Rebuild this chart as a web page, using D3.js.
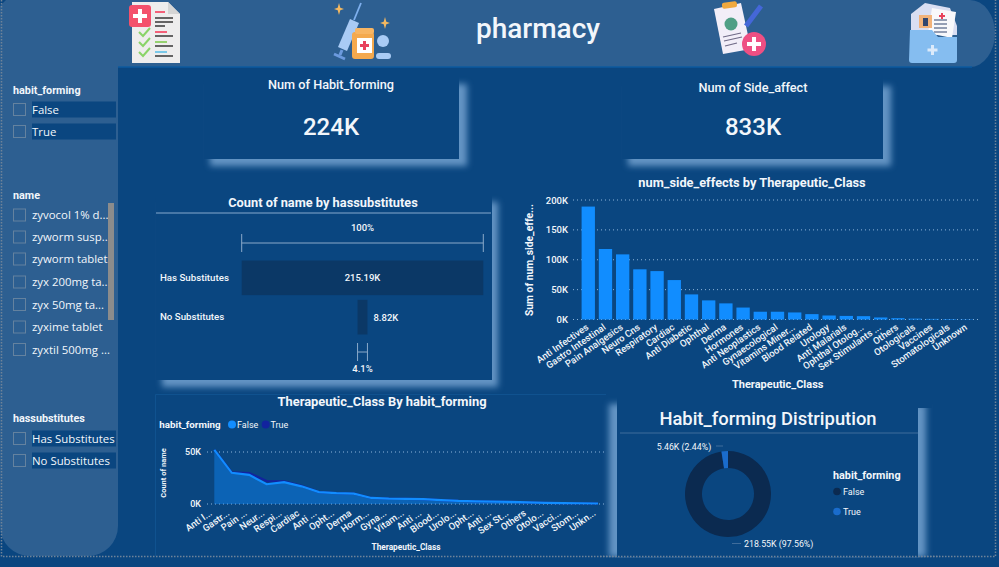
<!DOCTYPE html>
<html>
<head>
<meta charset="utf-8">
<script src="https://cdn.jsdelivr.net/npm/d3@7/dist/d3.min.js"></script>
<style>
    html, body { margin: 0; padding: 0; background: #0a4680; overflow: hidden; }
    svg { display: block; }
    text { font-family: Roboto, sans-serif; fill: #f2f6fb; }
    .slicer { font-family: 'Open Sans', sans-serif; }
    .axis path, .axis line { display: none; }
</style>
</head>
<body>
<svg id="chart" width="999" height="567"></svg>
<script>
// data
const sideClasses = ['Anti Infectives', 'Gastro Intestinal', 'Pain Analgesics', 'Neuro Cns', 'Respiratory', 'Cardiac', 'Anti Diabetic', 'Ophthal', 'Derma', 'Hormones', 'Anti Neoplastics', 'Gynaecological', 'Vitamins Miner...', 'Blood Related', 'Urology', 'Anti Malarials', 'Ophthal Otolog...', 'Sex Stimulants ...', 'Others', 'Otologicals', 'Vaccines', 'Stomatologicals', 'Unknown'];
const sideValues = [189000, 118000, 109000, 84000, 81000, 66000, 42000, 32000, 27000, 20000, 13000, 13000, 11800, 9000, 6700, 6000, 5600, 3400, 2200, 1400, 1000, 800, 500];
const sideTicks = [0, 50000, 100000, 150000, 200000];

const areaLabels = ['Anti I...', 'Gastr...', 'Pain ...', 'Neur...', 'Respi...', 'Cardiac', 'Anti ...', 'Opht...', 'Derma', 'Horm...', 'Gyna...', 'Vitam...', 'Anti ...', 'Blood...', 'Urolo...', 'Opht...', 'Anti ...', 'Sex St...', 'Others', 'Otolo...', 'Vacci...', 'Stom...', 'Unkn...'];
const areaFalse = [52000, 30000, 28000, 19000, 21000, 17000, 11500, 10500, 10000, 5800, 5200, 5000, 4600, 3800, 3000, 2600, 2300, 2100, 1500, 1100, 900, 700, 500];
const areaTrue = [0, 400, 1800, 3000, 800, 400, 0, 0, 0, 0, 0, 0, 0, 0, 0, 0, 0, 0, 0, 0, 0, 0, 0];
const areaTicks = [0, 50000];

const funnelNames = ['Has Substitutes', 'No Substitutes'];
const funnelValues = [215190, 8820];
const funnelLabels = ['215.19K', '8.82K'];

const donutNames = ['False', 'True'];
const donutValues = [218550, 5460];
const donutLabels = ['218.55K (97.56%)', '5.46K (2.44%)'];

const habitItems = ['False', 'True'];
const nameItems = ['zyvocol 1% d...', 'zyworm susp...', 'zyworm tablet', 'zyx 200mg ta...', 'zyx 50mg ta...', 'zyxime tablet', 'zyxtil 500mg ...'];
const subsItems = ['Has Substitutes', 'No Substitutes'];

const BG = '#0a4680';
const BAND = '#2d5f91';
const svg = d3.select('#chart');

const defs = svg.append('defs');
defs.append('filter').attr('id', 'soft').attr('x', '-10%').attr('y', '-15%').attr('width', '120%').attr('height', '130%')
    .append('feGaussianBlur').attr('stdDeviation', 3);

const fmtK = (d) => d / 1000 + 'K';

// helper for plain shapes
const put = (parent, tag, attrs) => {
    const el = parent.append(tag);
    Object.keys(attrs).forEach((k) => el.attr(k, attrs[k]));
    return el;
};
const label = (x, y, str, size, weight, anchor, parent) => {
    return (parent || svg).append('text')
        .attr('x', x).attr('y', y)
        .attr('font-size', size)
        .attr('font-weight', weight || 400)
        .attr('text-anchor', anchor || 'start')
        .text(str);
};

// header band + side panel
put(svg, 'path', {
    d: 'M0,0H970a25,33 0 0 1 25,33a25,34 0 0 1 -25,34H118V526a30,30 0 0 1 -30,30H30a30,30 0 0 1 -30,-30Z',
    fill: BAND,
});
put(svg, 'line', { x1: 118, x2: 972, y1: 67, y2: 67, stroke: '#0d5a9f', 'stroke-width': 1.5 });
put(svg, 'path', { d: 'M0,0H6L0,6Z', fill: '#0a4680' });

// dotted report border
put(svg, 'path', {
    d: 'M1.5,0V556.5H995.5V0',
    fill: 'none', stroke: '#6f8399', 'stroke-width': 1.5, 'stroke-dasharray': '1.5,1.5',
});

label(538, 38, 'pharmacy', 28, 500, 'middle');

// header icons
const icon1 = svg.append('g');
put(icon1, 'path', { d: 'M132,2H168L180,14V63H132Z', fill: '#eeeded' });
put(icon1, 'path', { d: 'M168,2L180,14H168Z', fill: '#d5d5d5' });
put(icon1, 'rect', { x: 129, y: 5, width: 22, height: 22, rx: 3, fill: '#f4516c' });
put(icon1, 'path', { d: 'M140,9V23M133,16H147', stroke: '#fff', 'stroke-width': 4 });
[[155, 12, 165, '#f4516c'], [155, 18, 173, '#555'], [155, 22, 173, '#555'], [155, 26, 165, '#555'],
    [155, 32, 167, '#f4516c'], [155, 36, 173, '#555'], [155, 42, 167, '#8ccf62'], [155, 46, 173, '#555'],
    [155, 52, 167, '#6cc4e8'], [155, 56, 173, '#555']].forEach((r) => {
    put(icon1, 'line', { x1: r[0], x2: r[2], y1: r[1], y2: r[1], stroke: r[3], 'stroke-width': 1.8 });
});
[34, 44, 54].forEach((y) => {
    put(icon1, 'path', { d: `M139,${y - 2}l4,4l7,-8`, fill: 'none', stroke: '#8ad468', 'stroke-width': 2 });
});

const icon2 = svg.append('g');
put(icon2, 'path', { d: 'M361,3L354,20', stroke: '#7fb0ee', 'stroke-width': 1.8 });
put(icon2, 'path', { d: 'M350,19L359,23L347,51L338,47Z', fill: '#a9cbf5' });
put(icon2, 'path', { d: 'M334,54L345,59M342,50L340,55', stroke: '#6c9ade', 'stroke-width': 3 });
put(icon2, 'rect', { x: 352, y: 32, width: 22, height: 27, rx: 3, fill: '#f4a94e' });
put(icon2, 'rect', { x: 355, y: 28, width: 19, height: 6, rx: 2, fill: '#f7b563' });
put(icon2, 'rect', { x: 357, y: 38, width: 15, height: 15, fill: '#fff' });
put(icon2, 'path', { d: 'M364.5,41V50M360,45.500H369', stroke: '#e8425c', 'stroke-width': 3 });
put(icon2, 'circle', { cx: 383, cy: 41, r: 6, fill: '#a9cbf5' });
put(icon2, 'rect', { x: 376, y: 53, width: 15, height: 6, rx: 3, fill: '#a9cbf5' });
[[339, 9, 5], [385, 23, 5]].forEach((s) => {
    const [x, y, r] = s;
    put(icon2, 'path', {
        d: `M${x},${y - r - 1}L${x + 1.300},${y - 1.300}L${x + r},${y}L${x + 1.300},${y + 1.300}L${x},${y + r + 1}L${x - 1.300},${y + 1.300}L${x - r},${y}L${x - 1.300},${y - 1.300}Z`,
        fill: '#f4b860',
    });
});

const icon3 = svg.append('g');
put(icon3, 'path', { d: 'M714,9L741,3L751,49L723,54Z', fill: '#f2eef8' });
put(icon3, 'rect', { x: 722, y: 2, width: 15, height: 6, rx: 2, fill: '#f0a93f', transform: 'rotate(-8 729 5)' });
put(icon3, 'circle', { cx: 731, cy: 24, r: 6.500, fill: '#4f9f86' });
put(icon3, 'path', { d: 'M723,37L741,33M724,41L742,37M725,46L737,43', stroke: '#6f6a86', 'stroke-width': 1.2 });
put(icon3, 'path', { d: 'M746,26L761,6', stroke: '#4467d8', 'stroke-width': 5 });
put(icon3, 'circle', { cx: 754, cy: 44, r: 12, fill: '#ee4f83' });
put(icon3, 'path', { d: 'M754,37V51M747,44H761', stroke: '#fff', 'stroke-width': 4 });

const icon4 = svg.append('g');
put(icon4, 'path', { d: 'M911,14L925,3L950,8L957,26L957,35H911Z', fill: '#d9def2' });
put(icon4, 'path', { d: 'M932,8L956,12L952,38L928,33Z', fill: '#f8f8fb' });
put(icon4, 'rect', { x: 919, y: 15, width: 13, height: 13, fill: '#f2b27a' });
put(icon4, 'path', { d: 'M925.500,18V26', stroke: '#31456e', 'stroke-width': 5 });
put(icon4, 'path', { d: 'M942,13V19M939,16H945', stroke: '#e8425c', 'stroke-width': 2 });
put(icon4, 'path', { d: 'M934,20H947M934,24H947M934,28H947M934,32H947', stroke: '#31456e', 'stroke-width': 1 });
put(icon4, 'path', { d: 'M910,30H932L938,37H957V60a3,3 0 0 1 -3,3H912a3,3 0 0 1 -3,-3Z', fill: '#85bdf0' });
put(icon4, 'path', { d: 'M932.500,45V55M927.500,50H937.500', stroke: '#dbeafa', 'stroke-width': 3 });

// slicers
const slicer = (title, titleY, items, ys, highlight) => {
    label(13, titleY, title, 10.800, 700);
    items.forEach((name, i) => {
        const y = ys[i];
        if (highlight) {
            put(svg, 'rect', { x: 32, y: y - 8, width: 84, height: 16, fill: '#0a4680' });
        }
        put(svg, 'rect', { x: 13.500, y: y - 6, width: 12, height: 12, fill: 'none', stroke: '#64829f', 'stroke-width': 1 });
        label(32, y + 4, name, 11.400, 400).attr('class', 'slicer');
    });
};
slicer('habit_forming', 94, habitItems, [109.500, 131.500], true);
slicer('name', 199, nameItems, [215, 237, 259, 282, 304.500, 327, 349.500], false);
slicer('hassubstitutes', 422, subsItems, [438.500, 460.500], true);
put(svg, 'rect', { x: 108, y: 203, width: 6, height: 117, fill: '#8c8c8c' });

// panels with the soft lighter edge
const panel = (x, y, w, h, sx, sy, sw, sh) => {
    put(svg, 'rect', { x: sx, y: sy, width: sw, height: sh, fill: '#6494c4', filter: 'url(#soft)' });
    put(svg, 'rect', { x: x, y: y, width: w, height: h, fill: BG });
};
panel(204, 77, 255, 82, 210, 84, 257, 82);
panel(622, 79, 261, 80, 628, 86, 263, 80);
panel(156, 195, 336, 185, 162, 202, 336, 185);
panel(617, 397, 301, 160, 609, 404, 317, 153);
put(svg, 'rect', { x: 916, y: 388, width: 16, height: 20, fill: BG });
put(svg, 'rect', { x: 600, y: 557.500, width: 340, height: 10, fill: BG });
put(svg, 'path', { d: 'M600,556.500H940', fill: 'none', stroke: '#6f8399', 'stroke-width': 1.5, 'stroke-dasharray': '1.5,1.5' });
put(svg, 'path', { d: 'M155.500,556V394.500H606', fill: 'none', stroke: '#10528f', 'stroke-width': 1 });

// KPI cards
label(331, 89, 'Num of Habit_forming', 12.700, 500, 'middle');
label(331, 135, '224K', 24, 500, 'middle');
label(753, 92, 'Num of Side_affect', 12.700, 500, 'middle');
label(753, 135, '833K', 24, 500, 'middle');

// funnel
label(323, 207, 'Count of name by hassubstitutes', 12.800, 700, 'middle');
put(svg, 'line', { x1: 156, x2: 491, y1: 213, y2: 213, stroke: '#86a9cd', 'stroke-width': 1 });
const funnelX = d3.scaleLinear().domain([0, d3.max(funnelValues)]).range([0, 241.600]);
const funnelY = d3.scaleBand().domain(funnelNames).range([260.500, 334.500]).paddingInner(0.12);
const funnelMid = 362.500;
svg.append('g').selectAll('rect').data(funnelNames).join('rect')
    .attr('x', (d, i) => funnelMid - funnelX(funnelValues[i]) / 2)
    .attr('y', (d) => funnelY(d))
    .attr('width', (d, i) => funnelX(funnelValues[i]))
    .attr('height', funnelY.bandwidth())
    .attr('fill', '#0b3866');
funnelNames.forEach((n, i) => {
    const cy = funnelY(n) + funnelY.bandwidth() / 2;
    label(160, cy + 3, n, 9.700, 500);
    const w = funnelX(funnelValues[i]);
    if (w > 60) label(funnelMid, cy + 3.500, funnelLabels[i], 9.500, 500, 'middle');
    else label(funnelMid + w / 2 + 6, cy + 3.500, funnelLabels[i], 9.500, 500);
});
const bracket = (w, y, txt, ty) => {
    const x0 = funnelMid - w / 2;
    const x1 = funnelMid + w / 2;
    put(svg, 'path', {
        d: `M${x0},${y - 9}V${y + 9}M${x1},${y - 9}V${y + 9}M${x0},${y}H${x1}`,
        fill: 'none', stroke: '#8aa9c9', 'stroke-width': 1,
    });
    label(funnelMid, ty, txt, 9.500, 500, 'middle');
};
bracket(funnelX(funnelValues[0]), 243, '100%', 231);
bracket(funnelX(funnelValues[1]), 352, (funnelValues[1] / funnelValues[0] * 100).toFixed(1) + '%', 372);

// bars: num_side_effects by Therapeutic_Class
label(752, 187, 'num_side_effects by Therapeutic_Class', 12.800, 700, 'middle');
const barX = d3.scaleBand().domain(sideClasses).range([579.700, 975.300]).paddingInner(0.225).paddingOuter(0.11);
const barY = d3.scaleLinear().domain([0, 200000]).range([319.500, 200]);
const barGrid = svg.append('g');
barGrid.selectAll('line').data(sideTicks).join('line')
    .attr('x1', 573).attr('x2', 979)
    .attr('y1', (d) => barY(d)).attr('y2', (d) => barY(d))
    .attr('stroke', '#8db4da').attr('stroke-width', 1).attr('stroke-dasharray', '1,3');
svg.append('g').selectAll('rect').data(sideClasses).join('rect')
    .attr('x', (d) => barX(d))
    .attr('y', (d, i) => barY(sideValues[i]))
    .attr('width', barX.bandwidth())
    .attr('height', (d, i) => barY(0) - barY(sideValues[i]))
    .attr('fill', '#118dff');
const barAxisY = svg.append('g').attr('class', 'axis').attr('transform', 'translate(570,0)')
    .call(d3.axisLeft(barY).tickValues(sideTicks).tickFormat(fmtK).tickSize(0).tickPadding(2));
barAxisY.selectAll('text').attr('font-size', 9.500).attr('font-weight', 500);
const barAxisX = svg.append('g').attr('class', 'axis').attr('transform', 'translate(0,322)')
    .call(d3.axisBottom(barX).tickSize(0).tickPadding(0));
barAxisX.selectAll('text')
    .attr('font-size', 9.500).attr('font-weight', 500).attr('text-anchor', 'end')
    .attr('dx', -3).attr('dy', 6).attr('y', 0)
    .attr('transform', 'rotate(-35)');
label(0, 0, 'Sum of num_side_effe...', 10.300, 700, 'middle').attr('transform', 'translate(533,260) rotate(-90)');
label(777.700, 388, 'Therapeutic_Class', 11, 700, 'middle');

// stacked area: Therapeutic_Class by habit_forming
label(382, 406, 'Therapeutic_Class By habit_forming', 12.900, 700, 'middle');
label(159.300, 428, 'habit_forming', 9.800, 700);
put(svg, 'circle', { cx: 232, cy: 424.500, r: 4, fill: '#118dff' });
label(237, 428, 'False', 9, 400);
put(svg, 'circle', { cx: 265.700, cy: 424.500, r: 4, fill: '#12239e' });
label(270.500, 428, 'True', 9, 400);

const areaX = d3.scalePoint().domain(d3.range(areaLabels.length)).range([214.300, 598]);
const areaY = d3.scaleLinear().domain([0, 50000]).range([504, 452]);
svg.append('g').selectAll('line').data(areaTicks).join('line')
    .attr('x1', 207).attr('x2', 604)
    .attr('y1', (d) => areaY(d)).attr('y2', (d) => areaY(d))
    .attr('stroke', '#8db4da').attr('stroke-width', 1).attr('stroke-dasharray', '1,3');
const areaRows = areaFalse.map((v, i) => ({ i: i, False: v, True: areaTrue[i] }));
const stacked = d3.stack().keys(['False', 'True'])(areaRows);
const areaGen = d3.area().x((d) => areaX(d.data.i)).y0((d) => areaY(d[0])).y1((d) => areaY(d[1]));
const lineGen = d3.line().x((d) => areaX(d.data.i)).y((d) => areaY(d[1]));
put(svg, 'path', { d: areaGen(stacked[0]), fill: '#118dff', 'fill-opacity': 0.42 });
put(svg, 'path', { d: lineGen(stacked[1]), fill: 'none', stroke: '#12239e', 'stroke-width': 2.200 });
put(svg, 'path', { d: lineGen(stacked[0]), fill: 'none', stroke: '#118dff', 'stroke-width': 2.200 });
const areaAxisY = svg.append('g').attr('class', 'axis').attr('transform', 'translate(201,0)')
    .call(d3.axisLeft(areaY).tickValues(areaTicks).tickFormat(fmtK).tickSize(0).tickPadding(0));
areaAxisY.selectAll('text').attr('font-size', 9).attr('font-weight', 500);
const areaAxisX = svg.append('g').attr('class', 'axis').attr('transform', 'translate(0,507)')
    .call(d3.axisBottom(areaX).tickFormat((i) => areaLabels[i]).tickSize(0).tickPadding(0));
areaAxisX.selectAll('text')
    .attr('font-size', 9.500).attr('font-weight', 500).attr('text-anchor', 'end')
    .attr('dx', -6).attr('dy', 5).attr('y', 0)
    .attr('transform', 'rotate(-35)');
label(0, 0, 'Count of name', 7.500, 700, 'middle').attr('transform', 'translate(166,473) rotate(-90)');
label(406, 550, 'Therapeutic_Class', 8.300, 700, 'middle');

// donut
label(768, 425, 'Habit_forming Distripution', 18.400, 500, 'middle');
put(svg, 'line', { x1: 620, x2: 918, y1: 433, y2: 433, stroke: '#3f6c9b', 'stroke-width': 1 });
const donutColor = d3.scaleOrdinal().domain(donutNames).range(['#0b2a50', '#1a6ccc']);
const pie = d3.pie().sort(null)(donutValues);
const arc = d3.arc().innerRadius(26).outerRadius(43);
svg.append('g').attr('transform', 'translate(728,494)')
    .selectAll('path').data(pie).join('path')
    .attr('d', arc)
    .attr('fill', (d, i) => donutColor(donutNames[i]));
label(656.700, 450, donutLabels[1], 8.800, 400);
put(svg, 'line', { x1: 716, x2: 723, y1: 446, y2: 446, stroke: '#3f6c9b' });
label(744, 547, donutLabels[0], 8.800, 400);
put(svg, 'line', { x1: 732, x2: 741, y1: 543.500, y2: 543.500, stroke: '#3f6c9b' });
label(833, 479, 'habit_forming', 10.800, 700);
donutNames.forEach((n, i) => {
    const y = 491.500 + i * 20;
    put(svg, 'circle', { cx: 837, cy: y, r: 3.800, fill: donutColor(n) });
    label(843, y + 3.500, n, 9, 400);
});
</script>
</body>
</html>
